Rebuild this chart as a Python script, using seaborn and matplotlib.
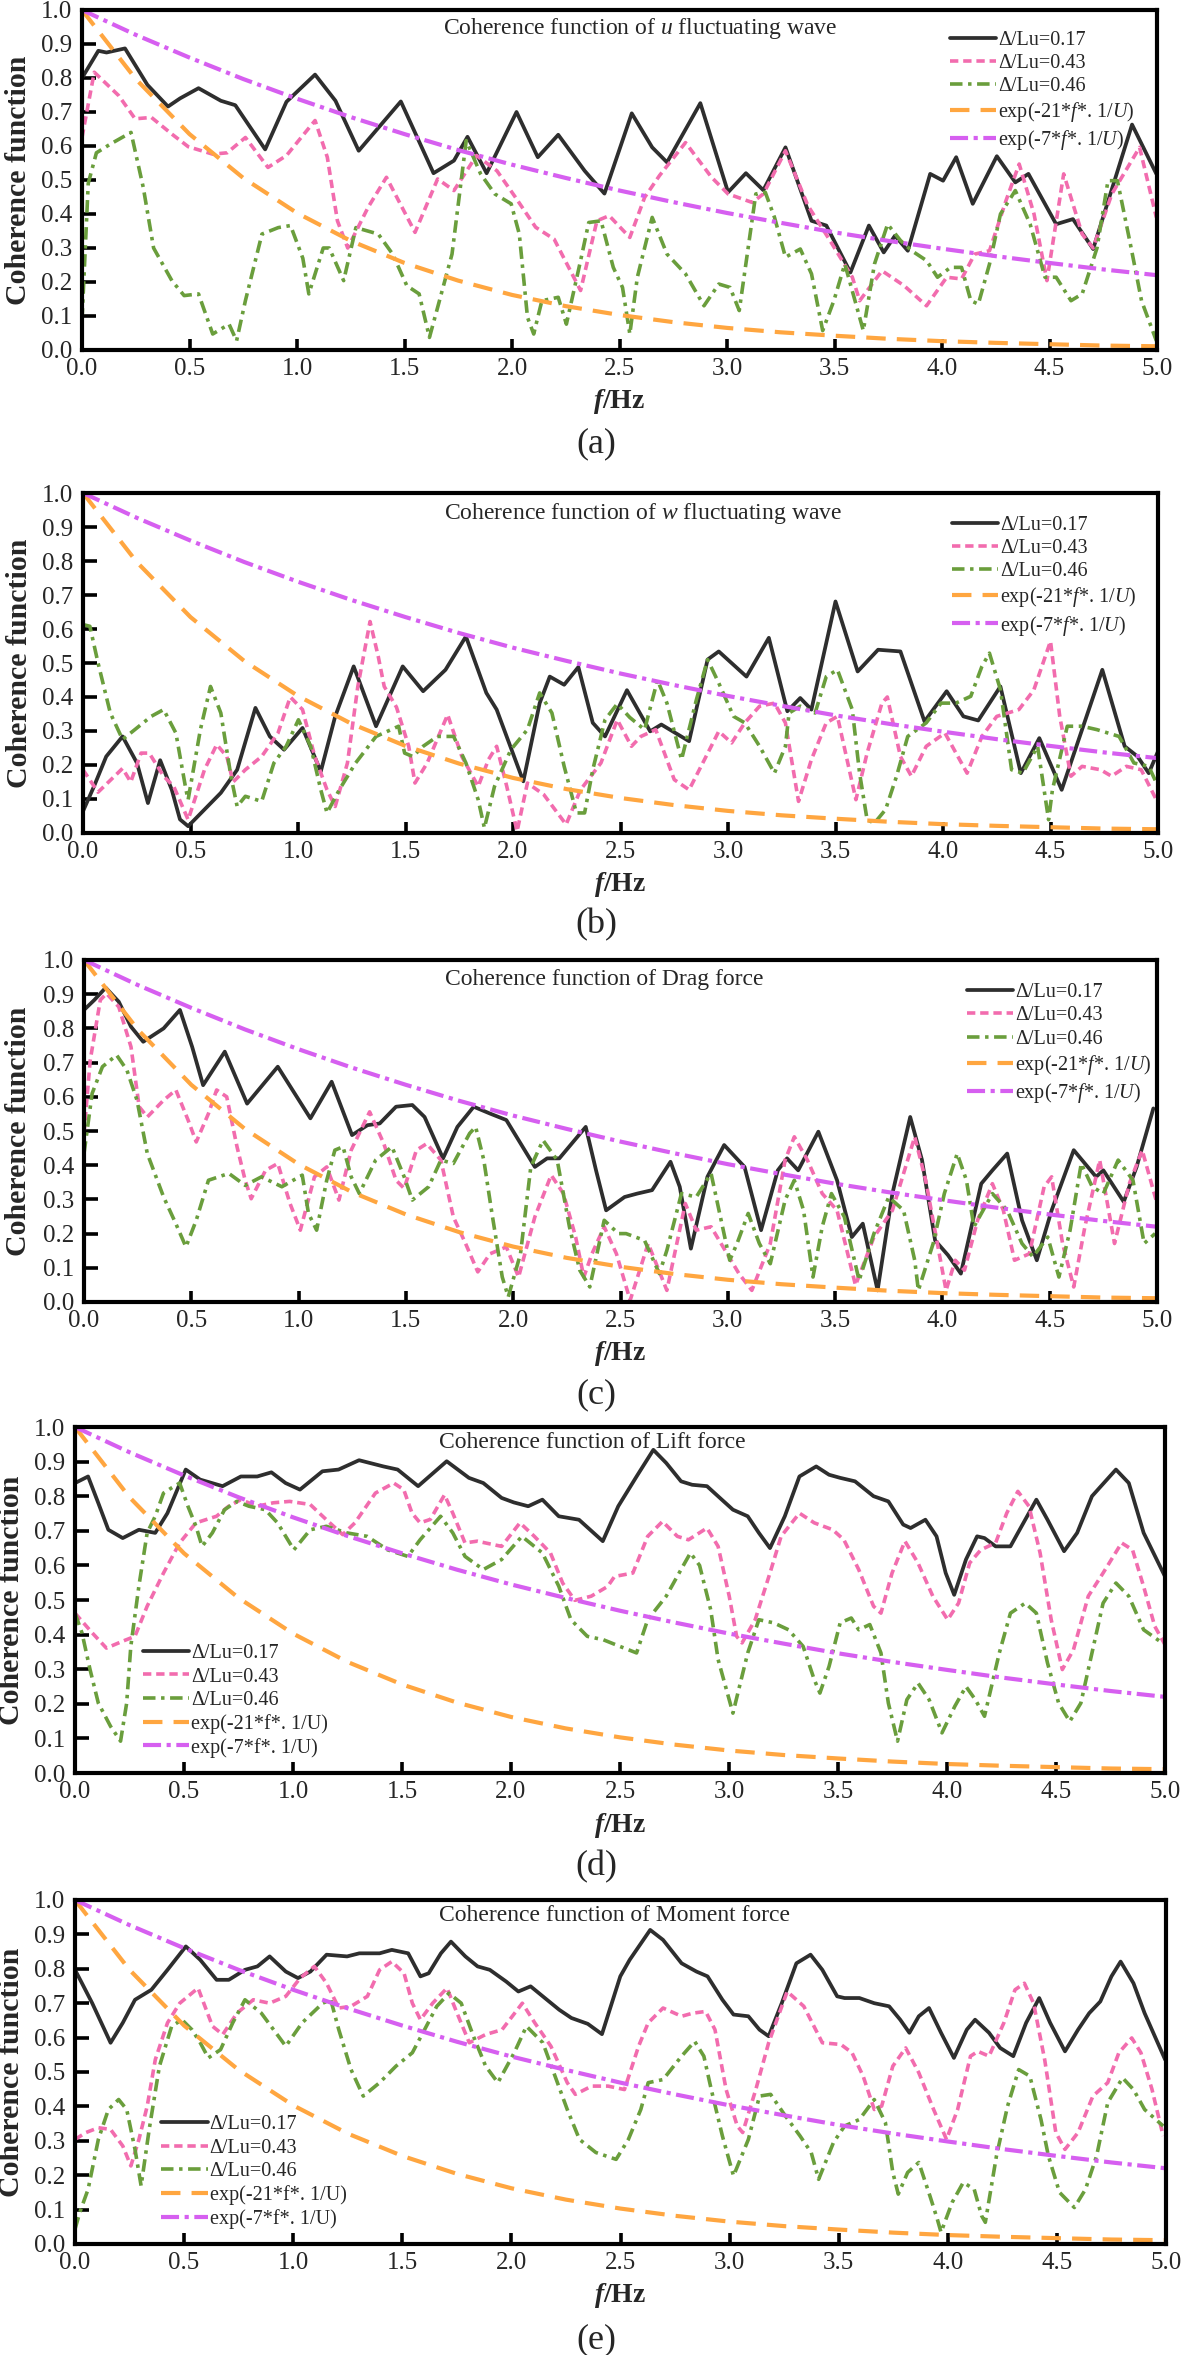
import numpy as np
import pandas as pd
import matplotlib
matplotlib.use("Agg")
import matplotlib.pyplot as plt
import seaborn as sns

# ---------------- data ----------------
A_BLACK = [(0.00,.80),(0.076,.88),(0.114,.875),(0.20,.887),(0.304,.78),(0.40,.716),(0.456,.74),(0.542,.77),(0.646,.733),(0.713,.72),(0.852,.59),(0.951,.73),(1.084,.81),(1.179,.733),(1.287,.586),(1.483,.731),(1.635,.52),(1.73,.557),(1.793,.627),(1.882,.52),(2.021,.70),(2.12,.567),(2.215,.633),(2.338,.527),(2.43,.46),(2.557,.696),(2.652,.596),(2.721,.552),(2.876,.726),(3.005,.464),(3.088,.52),(3.169,.47),(3.272,.596),(3.393,.38),(3.462,.366),(3.574,.228),(3.66,.366),(3.729,.287),(3.781,.336),(3.841,.292),(3.945,.518),(4.005,.498),(4.066,.567),(4.143,.43),(4.255,.57),(4.341,.493),(4.402,.518),(4.531,.37),(4.609,.385),(4.703,.297),(4.884,.663),(4.997,.518)]
A_PINK = [(0.00,.625),(0.057,.817),(0.171,.748),(0.247,.68),(0.323,.684),(0.418,.635),(0.494,.598),(0.608,.576),(0.675,.58),(0.76,.625),(0.865,.537),(0.951,.572),(1.084,.675),(1.141,.567),(1.188,.38),(1.236,.30),(1.331,.42),(1.416,.508),(1.549,.346),(1.654,.503),(1.73,.469),(1.835,.572),(1.93,.527),(2.015,.45),(2.11,.361),(2.196,.326),(2.319,.175),(2.395,.38),(2.452,.395),(2.548,.331),(2.617,.449),(2.686,.513),(2.807,.61),(2.928,.508),(3.005,.459),(3.117,.434),(3.169,.459),(3.272,.586),(3.376,.425),(3.479,.322),(3.583,.214),(3.617,.145),(3.721,.233),(3.824,.189),(3.928,.13),(4.022,.214),(4.091,.209),(4.152,.282),(4.221,.292),(4.298,.44),(4.359,.547),(4.428,.40),(4.488,.204),(4.566,.518),(4.652,.341),(4.703,.30),(4.79,.459),(4.919,.596),(4.997,.39)]
A_GREEN = [(0.00,.086),(0.029,.49),(0.067,.58),(0.133,.606),(0.228,.64),(0.285,.478),(0.333,.30),(0.418,.204),(0.475,.16),(0.542,.165),(0.608,.047),(0.684,.076),(0.719,.027),(0.76,.145),(0.837,.341),(0.913,.36),(0.97,.366),(1.027,.27),(1.055,.165),(1.122,.30),(1.15,.30),(1.217,.204),(1.274,.36),(1.378,.341),(1.445,.282),(1.511,.189),(1.568,.165),(1.616,.037),(1.654,.125),(1.721,.282),(1.787,.616),(1.854,.518),(1.92,.459),(1.996,.43),(2.034,.341),(2.072,.096),(2.101,.047),(2.139,.145),(2.215,.155),(2.253,.076),(2.319,.263),(2.357,.375),(2.414,.38),(2.471,.243),(2.514,.184),(2.548,.047),(2.583,.214),(2.652,.39),(2.721,.282),(2.807,.224),(2.893,.13),(2.962,.194),(3.014,.184),(3.057,.116),(3.134,.459),(3.178,.464),(3.221,.39),(3.272,.273),(3.341,.297),(3.393,.224),(3.445,.057),(3.497,.145),(3.548,.253),(3.634,.057),(3.686,.253),(3.747,.37),(3.807,.322),(3.859,.292),(3.928,.263),(3.979,.214),(4.04,.243),(4.091,.243),(4.134,.145),(4.169,.135),(4.221,.253),(4.272,.40),(4.341,.469),(4.41,.37),(4.479,.214),(4.531,.214),(4.6,.145),(4.652,.165),(4.721,.30),(4.772,.498),(4.816,.498),(4.876,.312),(4.928,.145),(4.997,.027)]

B_BLACK = [(0.0,.064),(0.051,.137),(0.108,.225),(0.184,.284),(0.251,.206),(0.302,.088),(0.359,.214),(0.413,.127),(0.451,.04),(0.489,.02),(0.565,.069),(0.641,.118),(0.717,.186),(0.802,.368),(0.869,.284),(0.935,.245),(1.021,.309),(1.106,.181),(1.173,.343),(1.259,.49),(1.363,.314),(1.487,.49),(1.582,.417),(1.686,.48),(1.781,.578),(1.876,.412),(1.924,.363),(2.048,.152),(2.124,.382),(2.171,.46),(2.238,.436),(2.304,.488),(2.371,.324),(2.428,.284),(2.53,.42),(2.638,.299),(2.69,.319),(2.819,.27),(2.905,.51),(2.957,.534),(3.086,.46),(3.19,.574),(3.276,.358),(3.336,.397),(3.388,.363),(3.50,.681),(3.603,.475),(3.698,.539),(3.802,.534),(3.914,.328),(4.017,.417),(4.095,.343),(4.164,.331),(4.267,.431),(4.362,.176),(4.448,.279),(4.552,.127),(4.741,.48),(4.845,.255),(4.905,.225),(4.957,.176),(5.0,.24)]
B_PINK = [(0.0,.186),(0.07,.12),(0.184,.19),(0.222,.15),(0.27,.235),(0.308,.235),(0.375,.167),(0.422,.137),(0.489,.039),(0.565,.186),(0.622,.26),(0.669,.225),(0.698,.15),(0.755,.186),(0.831,.225),(0.907,.294),(0.964,.40),(1.021,.363),(1.078,.225),(1.135,.127),(1.173,.078),(1.23,.206),(1.278,.43),(1.335,.622),(1.373,.52),(1.401,.431),(1.458,.37),(1.515,.255),(1.544,.147),(1.601,.206),(1.696,.348),(1.762,.225),(1.838,.137),(1.886,.216),(1.924,.255),(1.971,.137),(2.019,.005),(2.067,.147),(2.143,.113),(2.247,.025),(2.314,.127),(2.409,.206),(2.485,.333),(2.551,.255),(2.595,.284),(2.664,.304),(2.75,.157),(2.819,.127),(2.922,.255),(2.957,.299),(3.017,.265),(3.078,.324),(3.147,.373),(3.216,.382),(3.267,.324),(3.328,.093),(3.388,.216),(3.457,.324),(3.509,.343),(3.595,.098),(3.647,.235),(3.716,.382),(3.741,.40),(3.802,.225),(3.853,.167),(3.922,.255),(4.009,.294),(4.112,.176),(4.181,.284),(4.25,.343),(4.353,.363),(4.422,.42),(4.5,.564),(4.543,.343),(4.595,.167),(4.647,.196),(4.733,.186),(4.784,.167),(4.853,.196),(4.922,.186),(5.0,.088)]
B_GREEN = [(0.0,.613),(0.032,.608),(0.07,.50),(0.127,.353),(0.184,.275),(0.241,.304),(0.317,.343),(0.375,.363),(0.432,.294),(0.479,.127),(0.489,.098),(0.546,.304),(0.593,.431),(0.641,.353),(0.688,.167),(0.717,.078),(0.755,.108),(0.831,.093),(0.888,.206),(0.945,.255),(1.002,.333),(1.059,.255),(1.106,.127),(1.135,.059),(1.192,.127),(1.268,.206),(1.363,.284),(1.468,.314),(1.496,.235),(1.534,.225),(1.582,.255),(1.648,.284),(1.724,.284),(1.781,.206),(1.838,.098),(1.867,.015),(1.914,.137),(1.99,.245),(2.067,.304),(2.124,.412),(2.181,.353),(2.238,.196),(2.295,.059),(2.333,.059),(2.371,.186),(2.428,.333),(2.485,.38),(2.543,.34),(2.612,.304),(2.672,.45),(2.716,.382),(2.784,.216),(2.853,.392),(2.905,.51),(2.957,.441),(3.026,.343),(3.078,.324),(3.147,.255),(3.216,.176),(3.267,.255),(3.284,.353),(3.336,.373),(3.405,.353),(3.457,.46),(3.509,.48),(3.578,.363),(3.612,.176),(3.647,.039),(3.681,.029),(3.733,.069),(3.784,.167),(3.836,.284),(3.922,.324),(3.991,.382),(4.06,.382),(4.129,.402),(4.181,.49),(4.216,.529),(4.267,.422),(4.319,.186),(4.371,.176),(4.44,.255),(4.491,.039),(4.509,.127),(4.578,.314),(4.647,.314),(4.716,.304),(4.819,.284),(4.888,.206),(4.957,.196),(5.0,.137)]

C_BLACK = [(0.0,.854),(0.048,.883),(0.101,.919),(0.162,.878),(0.219,.805),(0.276,.761),(0.371,.80),(0.447,.854),(0.504,.746),(0.555,.634),(0.656,.732),(0.76,.58),(0.903,.688),(1.055,.537),(1.154,.644),(1.249,.488),(1.321,.517),(1.378,.522),(1.454,.571),(1.53,.576),(1.587,.541),(1.673,.42),(1.74,.512),(1.816,.571),(1.892,.551),(1.968,.532),(2.101,.395),(2.158,.42),(2.215,.42),(2.338,.512),(2.386,.385),(2.433,.268),(2.519,.307),(2.578,.317),(2.647,.327),(2.733,.41),(2.776,.337),(2.828,.156),(2.905,.366),(2.983,.459),(3.078,.395),(3.155,.21),(3.233,.385),(3.276,.42),(3.328,.385),(3.422,.498),(3.509,.356),(3.578,.19),(3.629,.229),(3.698,.034),(3.767,.317),(3.85,.541),(3.905,.415),(3.966,.18),(4.026,.137),(4.086,.083),(4.181,.346),(4.233,.385),(4.302,.434),(4.371,.239),(4.44,.122),(4.509,.268),(4.612,.444),(4.716,.366),(4.75,.385),(4.845,.293),(4.905,.395),(4.983,.566)]
C_PINK = [(0.0,.493),(0.029,.707),(0.076,.883),(0.105,.902),(0.162,.863),(0.219,.746),(0.257,.571),(0.295,.541),(0.371,.59),(0.428,.62),(0.485,.532),(0.523,.468),(0.58,.551),(0.618,.62),(0.665,.60),(0.713,.454),(0.751,.356),(0.779,.302),(0.846,.385),(0.903,.405),(0.96,.288),(1.008,.21),(1.074,.366),(1.131,.395),(1.188,.298),(1.245,.444),(1.331,.556),(1.397,.463),(1.454,.356),(1.492,.332),(1.549,.444),(1.597,.463),(1.663,.415),(1.721,.249),(1.778,.171),(1.835,.088),(1.892,.141),(1.968,.161),(2.025,.073),(2.101,.249),(2.177,.371),(2.234,.317),(2.291,.19),(2.329,.073),(2.367,.141),(2.424,.22),(2.481,.141),(2.545,.005),(2.629,.171),(2.716,.034),(2.802,.288),(2.853,.21),(2.922,.22),(3.052,.083),(3.112,.034),(3.198,.171),(3.267,.415),(3.31,.483),(3.371,.415),(3.44,.317),(3.509,.268),(3.595,.049),(3.681,.19),(3.767,.268),(3.871,.483),(3.922,.356),(3.991,.122),(4.017,.034),(4.06,.122),(4.103,.093),(4.164,.239),(4.233,.346),(4.284,.268),(4.336,.122),(4.405,.141),(4.474,.337),(4.509,.366),(4.56,.171),(4.612,.044),(4.664,.22),(4.733,.415),(4.802,.171),(4.871,.346),(4.931,.444),(5.0,.288)]
C_GREEN = [(0.0,.434),(0.038,.61),(0.086,.688),(0.152,.722),(0.2,.678),(0.247,.59),(0.295,.434),(0.371,.307),(0.428,.229),(0.475,.161),(0.523,.239),(0.58,.356),(0.675,.376),(0.751,.341),(0.827,.366),(0.922,.337),(1.017,.371),(1.046,.259),(1.084,.21),(1.131,.356),(1.169,.444),(1.207,.454),(1.245,.366),(1.283,.317),(1.359,.415),(1.435,.454),(1.492,.366),(1.53,.298),(1.606,.337),(1.663,.415),(1.721,.405),(1.797,.493),(1.825,.512),(1.863,.415),(1.901,.259),(1.949,.073),(1.977,.015),(2.034,.141),(2.082,.395),(2.139,.473),(2.205,.415),(2.262,.22),(2.31,.093),(2.357,.044),(2.424,.239),(2.49,.20),(2.526,.20),(2.612,.18),(2.681,.083),(2.716,.151),(2.784,.317),(2.853,.307),(2.922,.376),(3.009,.122),(3.043,.171),(3.095,.259),(3.147,.171),(3.198,.112),(3.267,.298),(3.31,.356),(3.353,.268),(3.397,.073),(3.44,.22),(3.483,.317),(3.543,.249),(3.612,.063),(3.681,.20),(3.75,.307),(3.819,.268),(3.871,.122),(3.888,.034),(3.957,.171),(4.009,.317),(4.069,.434),(4.112,.356),(4.147,.22),(4.233,.317),(4.302,.268),(4.371,.171),(4.422,.132),(4.491,.19),(4.543,.073),(4.595,.21),(4.647,.405),(4.698,.337),(4.75,.317),(4.819,.415),(4.888,.356),(4.94,.171),(4.991,.20)]

D_BLACK = [(0.0,.838),(0.06,.857),(0.107,.78),(0.153,.703),(0.219,.679),(0.293,.703),(0.368,.694),(0.424,.751),(0.508,.877),(0.574,.848),(0.677,.829),(0.761,.857),(0.836,.857),(0.901,.869),(0.966,.838),(1.032,.819),(1.135,.872),(1.209,.877),(1.303,.904),(1.415,.886),(1.48,.877),(1.527,.853),(1.574,.829),(1.705,.901),(1.807,.853),(1.873,.838),(1.957,.795),(2.013,.782),(2.079,.771),(2.144,.79),(2.219,.742),(2.312,.732),(2.421,.67),(2.492,.771),(2.576,.857),(2.653,.934),(2.712,.896),(2.78,.843),(2.831,.833),(2.899,.829),(2.967,.79),(3.018,.761),(3.086,.742),(3.137,.694),(3.188,.65),(3.256,.742),(3.323,.857),(3.40,.886),(3.459,.862),(3.51,.853),(3.578,.843),(3.663,.80),(3.731,.785),(3.799,.718),(3.833,.708),(3.901,.732),(3.952,.684),(3.994,.578),(4.033,.515),(4.087,.617),(4.138,.684),(4.172,.679),(4.223,.655),(4.291,.655),(4.342,.713),(4.41,.79),(4.461,.732),(4.537,.641),(4.597,.694),(4.665,.80),(4.775,.877),(4.834,.838),(4.902,.694),(5.0,.568)]
D_PINK = [(0.0,.462),(0.079,.405),(0.144,.361),(0.219,.381),(0.275,.395),(0.331,.482),(0.406,.578),(0.48,.665),(0.555,.723),(0.649,.742),(0.705,.771),(0.761,.79),(0.836,.771),(0.91,.781),(0.985,.785),(1.079,.776),(1.153,.732),(1.228,.689),(1.284,.723),(1.378,.809),(1.462,.838),(1.508,.819),(1.546,.751),(1.583,.723),(1.63,.733),(1.695,.804),(1.733,.751),(1.789,.665),(1.845,.67),(1.957,.655),(2.041,.723),(2.107,.684),(2.181,.636),(2.237,.549),(2.293,.499),(2.368,.511),(2.443,.539),(2.475,.568),(2.559,.578),(2.627,.684),(2.695,.727),(2.763,.684),(2.814,.674),(2.899,.708),(2.95,.655),(3.001,.511),(3.035,.395),(3.06,.376),(3.12,.443),(3.188,.578),(3.239,.684),(3.323,.751),(3.391,.723),(3.476,.703),(3.527,.674),(3.595,.588),(3.663,.482),(3.697,.462),(3.748,.578),(3.807,.67),(3.867,.607),(3.935,.511),(4.003,.443),(4.053,.491),(4.104,.607),(4.155,.645),(4.223,.665),(4.274,.751),(4.325,.814),(4.376,.771),(4.427,.636),(4.478,.443),(4.529,.299),(4.58,.356),(4.648,.511),(4.716,.578),(4.801,.665),(4.851,.645),(4.902,.539),(4.953,.424),(5.0,.371)]
D_GREEN = [(0.0,.462),(0.032,.405),(0.069,.299),(0.107,.202),(0.163,.135),(0.209,.092),(0.237,.202),(0.256,.366),(0.293,.54),(0.331,.694),(0.368,.742),(0.406,.809),(0.443,.824),(0.48,.838),(0.518,.771),(0.555,.713),(0.583,.655),(0.63,.694),(0.686,.761),(0.742,.785),(0.798,.771),(0.873,.761),(0.929,.723),(1.004,.645),(1.079,.703),(1.153,.713),(1.247,.694),(1.34,.684),(1.434,.645),(1.527,.626),(1.583,.674),(1.677,.742),(1.733,.694),(1.789,.626),(1.873,.588),(1.957,.617),(2.05,.684),(2.144,.636),(2.219,.54),(2.275,.443),(2.35,.395),(2.424,.385),(2.499,.366),(2.576,.347),(2.627,.443),(2.712,.511),(2.78,.588),(2.823,.636),(2.865,.60),(2.916,.472),(2.95,.328),(3.018,.173),(3.086,.347),(3.137,.443),(3.205,.434),(3.273,.414),(3.34,.366),(3.391,.27),(3.417,.231),(3.459,.308),(3.51,.434),(3.561,.448),(3.595,.414),(3.646,.429),(3.697,.347),(3.731,.202),(3.773,.092),(3.816,.212),(3.867,.26),(3.918,.212),(3.977,.116),(4.036,.193),(4.087,.25),(4.13,.212),(4.172,.164),(4.24,.347),(4.291,.462),(4.359,.491),(4.41,.462),(4.461,.318),(4.512,.202),(4.563,.149),(4.614,.202),(4.665,.347),(4.716,.491),(4.775,.549),(4.834,.511),(4.902,.414),(4.987,.376)]

E_BLACK = [(0.0,.797),(0.032,.758),(0.079,.70),(0.163,.585),(0.219,.643),(0.275,.71),(0.35,.739),(0.424,.797),(0.508,.865),(0.574,.826),(0.649,.768),(0.705,.768),(0.779,.797),(0.836,.807),(0.892,.836),(0.966,.792),(1.022,.773),(1.079,.792),(1.153,.841),(1.247,.836),(1.303,.845),(1.396,.845),(1.452,.855),(1.527,.845),(1.583,.778),(1.621,.787),(1.677,.845),(1.723,.879),(1.789,.836),(1.845,.807),(1.901,.797),(1.976,.763),(2.032,.734),(2.088,.749),(2.163,.71),(2.219,.681),(2.275,.657),(2.35,.64),(2.415,.61),(2.499,.778),(2.542,.826),(2.636,.913),(2.695,.884),(2.78,.816),(2.848,.792),(2.899,.778),(2.967,.71),(3.018,.667),(3.086,.662),(3.137,.623),(3.179,.604),(3.239,.70),(3.306,.816),(3.371,.841),(3.425,.797),(3.493,.72),(3.527,.715),(3.595,.715),(3.663,.70),(3.731,.691),(3.782,.652),(3.824,.614),(3.867,.662),(3.914,.686),(3.969,.614),(4.028,.541),(4.087,.623),(4.125,.652),(4.189,.614),(4.24,.57),(4.30,.546),(4.359,.643),(4.419,.715),(4.469,.643),(4.537,.56),(4.597,.623),(4.648,.671),(4.699,.705),(4.75,.778),(4.792,.821),(4.851,.758),(4.902,.671),(4.996,.536)]
E_PINK = [(0.0,.304),(0.05,.324),(0.107,.338),(0.163,.333),(0.219,.285),(0.256,.227),(0.293,.304),(0.331,.401),(0.368,.536),(0.424,.643),(0.48,.70),(0.564,.744),(0.63,.633),(0.677,.609),(0.742,.671),(0.817,.71),(0.892,.70),(0.966,.72),(1.032,.773),(1.097,.807),(1.153,.758),(1.209,.686),(1.265,.691),(1.34,.72),(1.396,.797),(1.452,.821),(1.508,.787),(1.546,.70),(1.583,.652),(1.639,.70),(1.705,.744),(1.751,.671),(1.807,.585),(1.882,.609),(1.957,.623),(2.05,.70),(2.107,.643),(2.181,.575),(2.256,.469),(2.293,.435),(2.368,.459),(2.443,.459),(2.518,.449),(2.583,.575),(2.627,.643),(2.695,.686),(2.78,.662),(2.831,.671),(2.89,.676),(2.933,.623),(2.984,.449),(3.035,.343),(3.06,.324),(3.12,.449),(3.179,.585),(3.264,.734),(3.34,.691),(3.425,.585),(3.51,.58),(3.561,.556),(3.612,.488),(3.663,.391),(3.697,.401),(3.748,.517),(3.807,.57),(3.867,.498),(3.935,.391),(3.994,.304),(4.045,.391),(4.104,.546),(4.138,.56),(4.189,.546),(4.257,.643),(4.308,.739),(4.351,.758),(4.393,.70),(4.444,.536),(4.495,.324),(4.537,.275),(4.597,.324),(4.665,.43),(4.733,.469),(4.784,.556),(4.843,.599),(4.885,.556),(4.936,.449),(4.987,.314)]
E_GREEN = [(0.0,.043),(0.022,.092),(0.06,.159),(0.107,.304),(0.153,.391),(0.20,.42),(0.237,.391),(0.275,.275),(0.303,.169),(0.34,.333),(0.387,.517),(0.443,.633),(0.49,.652),(0.536,.623),(0.574,.585),(0.611,.541),(0.667,.565),(0.723,.643),(0.779,.71),(0.854,.671),(0.91,.623),(0.966,.575),(1.041,.643),(1.135,.70),(1.172,.71),(1.209,.623),(1.265,.507),(1.321,.43),(1.396,.469),(1.471,.517),(1.546,.556),(1.602,.623),(1.658,.691),(1.714,.729),(1.77,.70),(1.826,.604),(1.882,.517),(1.938,.469),(2.013,.556),(2.069,.633),(2.144,.585),(2.2,.488),(2.256,.391),(2.312,.304),(2.387,.266),(2.48,.246),(2.536,.304),(2.593,.391),(2.627,.469),(2.695,.478),(2.78,.546),(2.84,.589),(2.882,.546),(2.916,.449),(2.967,.314),(3.018,.198),(3.086,.304),(3.137,.43),(3.188,.435),(3.256,.372),(3.323,.314),(3.374,.266),(3.408,.188),(3.476,.295),(3.527,.343),(3.595,.362),(3.663,.42),(3.714,.353),(3.748,.208),(3.773,.145),(3.816,.208),(3.867,.237),(3.918,.14),(3.952,.072),(3.969,.034),(4.02,.121),(4.071,.179),(4.121,.159),(4.155,.082),(4.172,.063),(4.223,.256),(4.274,.401),(4.325,.507),(4.376,.488),(4.427,.362),(4.461,.256),(4.512,.15),(4.58,.106),(4.631,.159),(4.682,.256),(4.733,.411),(4.801,.483),(4.851,.449),(4.902,.391),(4.987,.343)]

EXP_F = [0.0,0.25,0.5,0.75,1.0,1.25,1.5,1.75,2.0,2.25,2.5,2.75,3.0,3.25,3.5,3.75,4.0,4.25,4.5,4.75,5.0]
EXP_21 = [1.000,0.797,0.635,0.506,0.403,0.321,0.256,0.204,0.162,0.129,0.103,0.082,0.065,0.052,0.042,0.033,0.026,0.021,0.017,0.013,0.011]
EXP_7 = [1.000,0.927,0.860,0.797,0.739,0.685,0.635,0.588,0.545,0.506,0.469,0.435,0.403,0.374,0.346,0.321,0.298,0.276,0.256,0.237,0.220]

X_TICKS = [0.0,0.5,1.0,1.5,2.0,2.5,3.0,3.5,4.0,4.5,5.0]
Y_TICKS = [0.0,0.1,0.2,0.3,0.4,0.5,0.6,0.7,0.8,0.9,1.0]

LABELS_ITALIC = ["\u0394/Lu=0.17", "\u0394/Lu=0.43", "\u0394/Lu=0.46",
                 r"exp(-21*$f$*. 1/$U$)", r"exp(-7*$f$*. 1/$U$)"]
LABELS_PLAIN = ["\u0394/Lu=0.17", "\u0394/Lu=0.43", "\u0394/Lu=0.46",
                "exp(-21*f*. 1/U)", "exp(-7*f*. 1/U)"]

TITLES = [r"Coherence function of $u$ fluctuating wave",
          r"Coherence function of $w$ fluctuating wave",
          "Coherence function of Drag force",
          "Coherence function of Lift force",
          "Coherence function of Moment force"]
CAPTIONS = ["(a)", "(b)", "(c)", "(d)", "(e)"]
SERIES = [(A_BLACK, A_PINK, A_GREEN), (B_BLACK, B_PINK, B_GREEN), (C_BLACK, C_PINK, C_GREEN),
          (D_BLACK, D_PINK, D_GREEN), (E_BLACK, E_PINK, E_GREEN)]

# ---------------- style ----------------
sns.set_style("ticks")
plt.rcParams["font.family"] = ["Liberation Serif", "DejaVu Serif"]
plt.rcParams["mathtext.fontset"] = "custom"
plt.rcParams["mathtext.rm"] = "Liberation Serif"
plt.rcParams["mathtext.it"] = "Liberation Serif:italic"
plt.rcParams["mathtext.bf"] = "Liberation Serif:bold"
plt.rcParams["mathtext.bfit"] = "Liberation Serif:italic:bold"
plt.rcParams["lines.scale_dashes"] = False

BLACK, PINK, GREEN, ORANGE, PURPLE = "#2e2e2e", "#f26cae", "#6a9e3c", "#ffa640", "#d65ff0"
STYLES = [dict(color=BLACK, linewidth=2.7, linestyle="-"),
          dict(color=PINK, linewidth=2.6, linestyle=(0, (6, 3.5))),
          dict(color=GREEN, linewidth=2.6, linestyle=(0, (9, 4, 2.5, 4))),
          dict(color=ORANGE, linewidth=3.0, linestyle=(0, (14, 8))),
          dict(color=PURPLE, linewidth=3.0, linestyle=(0, (13, 4, 3, 4)))]

W, H = 1181, 2355
BOXES = [(82, 10, 1157, 350), (83, 493, 1158, 833), (84, 960, 1157, 1302),
         (75, 1427, 1165, 1773), (75, 1900, 1166, 2244)]
TITLE_POS = [(0.336, 0.947), (0.336, 0.941), (0.336, 0.942), (0.334, 0.954), (0.334, 0.954)]
LEGEND_POS = [(0.807, 0.938), (0.808, 0.932), (0.823, 0.932), (0.062, 0.372), (0.079, 0.374)]
CAPTION_Y = [444, 925, 1395, 1867, 2340]
YLABEL_X = [19, 19, 19, 12, 12]

fig = plt.figure(figsize=(W / 100, H / 100), dpi=100)

for i, (box, series) in enumerate(zip(BOXES, SERIES)):
    l, t, r, b = box
    ax = fig.add_axes([l / W, 1 - b / H, (r - l) / W, (b - t) / H])
    labels = LABELS_ITALIC if i < 3 else LABELS_PLAIN
    for k, s in enumerate(series):
        df = pd.DataFrame(s, columns=["f", "coh"])
        sns.lineplot(data=df, x="f", y="coh", ax=ax, estimator=None, sort=False,
                     label=labels[k], **STYLES[k])
    sns.lineplot(x=EXP_F, y=EXP_21, ax=ax, estimator=None, label=labels[3], **STYLES[3])
    sns.lineplot(x=EXP_F, y=EXP_7, ax=ax, estimator=None, label=labels[4], **STYLES[4])

    ax.set_xlim(0, 5)
    ax.set_ylim(0, 1)
    ax.set_xticks(X_TICKS)
    ax.set_xticklabels([f"{v:.1f}" for v in X_TICKS])
    ax.set_yticks(Y_TICKS)
    ax.set_yticklabels([f"{v:.1f}" for v in Y_TICKS])
    ax.tick_params(axis="x", direction="in", length=8, width=2.6, pad=6, labelsize=18,
                   top=False, color="black")
    ax.tick_params(axis="y", direction="in", length=10, width=2.6, pad=7, labelsize=18,
                   right=False, color="black")
    for sp in ax.spines.values():
        sp.set_visible(True)
        sp.set_linewidth(3)
        sp.set_color("black")

    hpx = b - t
    wpx = r - l
    ax.set_xlabel(r"$\mathbfit{f}$/Hz", fontsize=20, fontweight="bold")
    ax.xaxis.label.set_verticalalignment("center")
    ax.xaxis.set_label_coords(0.5, -52 / hpx)
    ax.set_ylabel("Coherence function", fontsize=21.5, fontweight="bold")
    ax.yaxis.label.set_verticalalignment("center")
    ax.yaxis.set_label_coords((YLABEL_X[i] - l) / wpx, 0.5)

    ax.text(TITLE_POS[i][0], TITLE_POS[i][1], TITLES[i], transform=ax.transAxes,
            fontsize=17, ha="left", va="center")

    handles, labs = ax.get_legend_handles_labels()
    ax.legend(handles, labs, loc="upper left", bbox_to_anchor=LEGEND_POS[i],
              frameon=False, fontsize=14.5, handlelength=2.3, handletextpad=0.1,
              labelspacing=0.2, borderpad=0, borderaxespad=0)

    fig.text(0.505, 1 - CAPTION_Y[i] / H, CAPTIONS[i], ha="center", va="center", fontsize=26)

fig.savefig("out.png", dpi=100)
